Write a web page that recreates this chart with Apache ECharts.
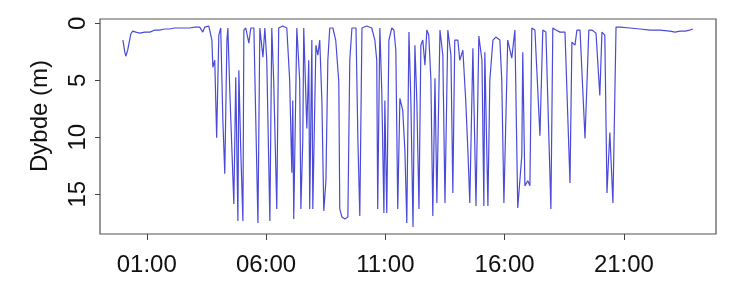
<!DOCTYPE html>
<html>
<head>
<meta charset="utf-8">
<script src="https://cdn.jsdelivr.net/npm/echarts@6/dist/echarts.min.js"></script>
<style>html,body{margin:0;padding:0;background:#fff}#c{width:747px;height:306px}</style>
</head>
<body>
<div id="c"></div>
<script>
// time of day (hours) and depth (m)
const hours = [
  0.00,0.08,0.12,0.20,0.33,0.41,0.54,0.71,0.92,1.13,1.34,1.54,1.75,1.96,2.17,2.38,2.59,2.80,3.01,3.22,3.35,3.43,3.60,
  3.73,3.77,3.85,3.93,4.02,4.10,4.19,4.27,4.36,4.40,4.48,4.65,4.73,4.82,4.86,4.94,5.03,5.07,5.15,5.28,5.36,5.49,5.57,5.66,5.74,5.87,5.95,
  6.03,6.16,6.24,6.32,6.45,6.53,6.70,6.87,6.99,7.08,7.12,7.16,7.29,7.41,7.46,7.54,7.58,7.62,7.71,7.79,7.83,7.92,7.96,
  8.09,8.17,8.25,8.34,8.42,8.51,8.59,8.67,8.80,8.92,9.05,9.09,9.18,9.30,9.43,9.51,9.60,9.77,9.85,9.93,
  10.02,10.22,10.43,10.56,10.64,10.68,10.77,10.85,10.94,10.98,11.06,11.15,11.27,11.36,11.44,11.52,11.61,11.73,11.82,11.90,
  11.99,12.07,12.16,12.24,12.32,12.41,12.49,12.57,12.66,12.74,12.82,12.91,12.99,13.08,13.16,13.29,13.41,13.50,13.62,13.75,13.83,13.91,
  14.04,14.12,14.25,14.37,14.46,14.54,14.67,14.80,14.92,15.05,15.13,15.17,15.30,15.38,15.51,15.63,15.80,15.88,15.97,
  16.13,16.30,16.43,16.55,16.72,16.76,16.85,16.93,16.97,17.06,17.14,17.27,17.39,17.48,17.60,17.73,17.94,
  18.02,18.15,18.32,18.53,18.74,18.82,18.95,19.03,19.16,19.37,19.53,19.66,19.83,19.99,20.08,20.20,20.29,20.41,20.54,20.67,
  20.84,21.25,21.67,22.09,22.51,22.93,23.14,23.35,23.56,23.77,23.89
];
const depth = [
  1.47,2.53,2.89,2.36,0.94,0.68,0.77,0.86,0.77,0.77,0.59,0.59,0.50,0.50,0.41,0.41,0.41,0.41,0.33,0.33,0.77,0.33,0.24,
  1.47,3.86,3.24,10.04,1.03,0.41,8.53,13.21,1.47,0.41,5.89,15.86,4.74,17.36,4.12,11.18,17.36,0.59,0.41,1.74,0.41,0.41,8.53,17.54,0.41,2.97,0.41,
  3.24,17.36,0.41,5.00,16.30,0.41,0.24,0.41,5.00,13.12,6.77,17.18,0.41,5.00,16.30,10.30,0.41,0.41,9.24,3.24,16.30,1.47,16.30,
  1.92,2.80,1.47,6.77,16.48,13.83,3.24,0.41,0.41,1.47,5.18,16.30,17.01,17.18,17.01,3.24,0.41,0.41,10.30,16.92,
  0.41,0.24,0.41,1.47,3.24,16.30,0.41,5.89,16.65,6.77,16.65,1.47,0.41,0.59,2.36,16.30,6.59,7.65,11.18,17.54,
  0.77,6.77,17.89,1.92,6.77,16.30,1.92,1.47,3.68,0.59,1.03,5.00,16.92,4.83,15.77,0.59,2.80,15.77,0.59,2.80,14.89,1.47,
  1.47,3.24,2.36,6.77,11.18,15.77,2.18,16.04,1.12,3.24,16.04,2.53,16.04,5.00,1.47,1.21,1.47,5.00,15.77,
  1.47,3.06,0.59,16.21,11.62,2.53,14.27,14.27,13.83,14.27,0.41,0.59,5.89,9.86,0.59,0.77,16.30,
  0.41,0.59,0.77,0.77,14.01,1.65,1.92,0.59,0.59,10.12,0.59,0.59,0.86,6.33,0.77,1.03,14.89,9.59,15.77,0.33,
  0.33,0.41,0.50,0.59,0.59,0.68,0.77,0.68,0.68,0.59,0.50
];
const xTicks = [1, 6, 11, 16, 21];
const xTickLabels = ['01:00', '06:00', '11:00', '16:00', '21:00'];
const yTicks = [0, 5, 10, 15];

const chart = echarts.init(document.getElementById('c'), null, {renderer: 'canvas'});
const font = 'Liberation Sans, Arial, Helvetica, sans-serif';
chart.setOption({
  animation: false,
  grid: {left: 100, right: 31, top: 19, bottom: 72, show: true, borderColor: '#555', borderWidth: 1.2, backgroundColor: 'transparent'},
  xAxis: {
    type: 'value', min: -0.96, max: 24.86, position: 'bottom',
    axisLine: {show: false, onZero: false}, splitLine: {show: false},
    axisTick: {show: true, customValues: xTicks, length: 6, lineStyle: {color: '#444', width: 1}},
    axisLabel: {customValues: xTicks, color: '#111', fontFamily: font, fontSize: 24, margin: 19,
      formatter: v => xTickLabels[xTicks.indexOf(Math.round(v))] || ''}
  },
  yAxis: {
    type: 'value', inverse: true, min: -0.38, max: 18.5, position: 'left',
    axisLine: {show: false, onZero: false}, splitLine: {show: false},
    axisTick: {show: true, customValues: yTicks, length: 5, lineStyle: {color: '#444', width: 1}},
    axisLabel: {customValues: yTicks, rotate: 90, color: '#111', fontFamily: font, fontSize: 24, margin: 10}
  },
  graphic: [{
    type: 'text', x: 40, y: 116, rotation: Math.PI / 2,
    style: {text: 'Dybde (m)', font: '24px ' + font, fill: '#111', align: 'center', verticalAlign: 'middle'}
  }],
  series: [{
    type: 'line', showSymbol: false, symbol: 'none',
    data: hours.map((h, i) => [h, depth[i]]),
    lineStyle: {color: '#4a4ad8', width: 1.2}
  }]
});
</script>
</body>
</html>
